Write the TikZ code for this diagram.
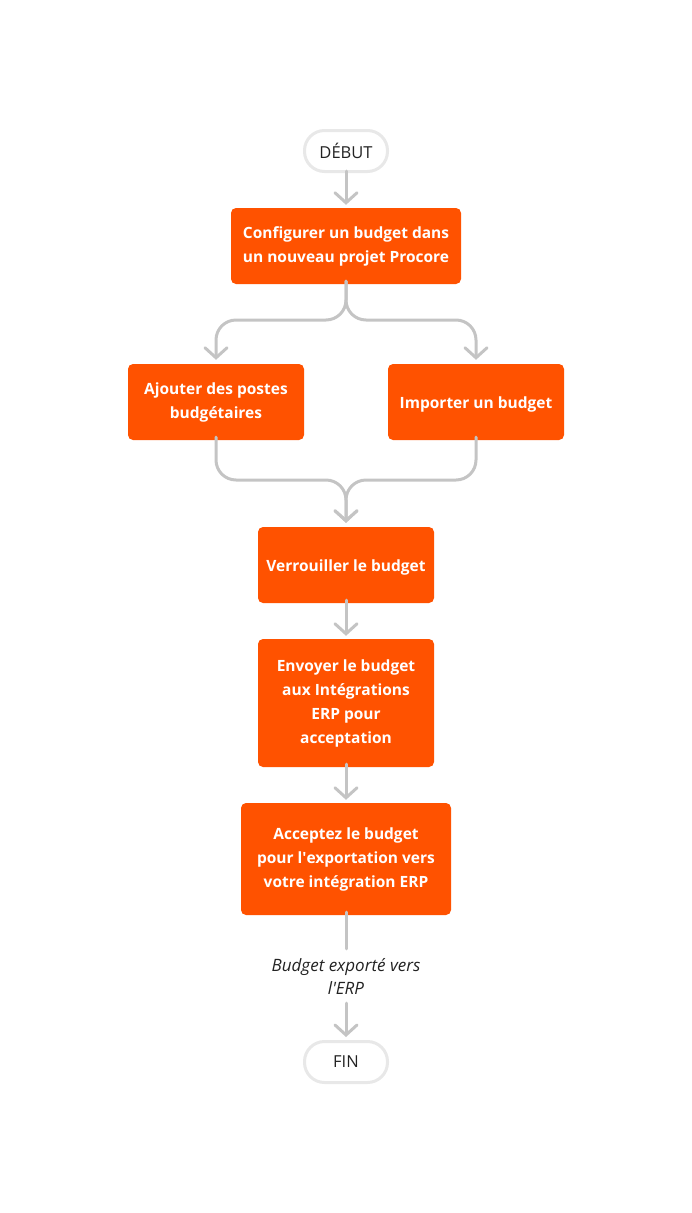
\documentclass[tikz,border=0pt]{standalone}
\usepackage{fontspec}
\setmainfont{Open Sans}
\usetikzlibrary{arrows.meta}

\definecolor{procore}{HTML}{FF5200}
\definecolor{linegray}{HTML}{C4C4C4}
\definecolor{pillgray}{HTML}{E8E8E8}
\definecolor{textdark}{HTML}{222222}

\begin{document}
\begin{tikzpicture}[x = 1pt, y = -1pt,
    stepbox/.style = {fill = procore, rounded corners = 5pt, text = white,
        align = center, font = \fontsize{15.5}{24}\selectfont\bfseries, inner sep = 0pt,
        execute at begin node = \rule{0pt}{17pt}},
    pill/.style = {draw = pillgray, line width = 3pt, fill = white, rounded corners = 20pt,
        minimum width = 83pt, minimum height = 41pt, text = textdark,
        font = \fontsize{16.5}{20}\selectfont},
    flow/.style = {draw = linegray, line width = 3pt, line cap = round, line join = round,
        rounded corners = 20pt},
    tip/.style = {-{Straight Barb[length = 10pt, width = 22pt, line cap = round]}}]
    \useasboundingbox (0,0) rectangle (692,1213);

    \node[pill] (debut) at (346,151) {DÉBUT};
    \node[stepbox, minimum width = 230pt, minimum height = 76pt] (config) at (346,246)
        {Configurer un budget dans\\un nouveau projet Procore};
    \node[stepbox, minimum width = 176pt, minimum height = 76pt] (ajouter) at (216,402)
        {Ajouter des postes\\budgétaires};
    \node[stepbox, minimum width = 176pt, minimum height = 76pt] (importer) at (476,402)
        {Importer un budget};
    \node[stepbox, minimum width = 176pt, minimum height = 76pt] (verrou) at (346,565)
        {Verrouiller le budget};
    \node[stepbox, minimum width = 176pt, minimum height = 128pt] (envoyer) at (346,703)
        {Envoyer le budget\\aux Intégrations\\ERP pour\\acceptation};
    \node[stepbox, minimum width = 210pt, minimum height = 112pt] (accepter) at (346,859)
        {Acceptez le budget\\pour l\textquotesingle exportation vers\\votre intégration ERP};
    \node[text = textdark, align = center, inner sep = 0pt, minimum height = 54pt,
        font = \fontsize{17}{23}\selectfont\itshape] (exporte) at (346,976)
        {Budget exporté vers\\l\textquotesingle ERP};
    \node[pill] (fin) at (346,1062) {FIN};

    % connectors
    \draw[flow, tip] ([yshift = 2pt]debut.south) -- ([yshift = 3pt]config.north);
    \draw[flow, tip] ([yshift = 3pt]config.south) -- (346,320) -| ([yshift = 4pt]ajouter.north);
    \draw[flow, tip] ([yshift = 3pt]config.south) -- (346,320) -| ([yshift = 4pt]importer.north);
    \draw[flow, tip] ([yshift = 3pt]ajouter.south) -- (216,480) -| ([yshift = 4pt]verrou.north);
    \draw[flow, tip] ([yshift = 3pt]importer.south) -- (476,480) -| ([yshift = 4pt]verrou.north);
    \draw[flow, tip] ([yshift = 3pt]verrou.south) -- ([yshift = 3pt]envoyer.north);
    \draw[flow, tip] ([yshift = 3pt]envoyer.south) -- ([yshift = 3pt]accepter.north);
    \draw[flow] ([yshift = 3pt]accepter.south) -- (exporte.north);
    \draw[flow, tip] (exporte.south) -- ([yshift = 3pt]fin.north);
\end{tikzpicture}
\end{document}
